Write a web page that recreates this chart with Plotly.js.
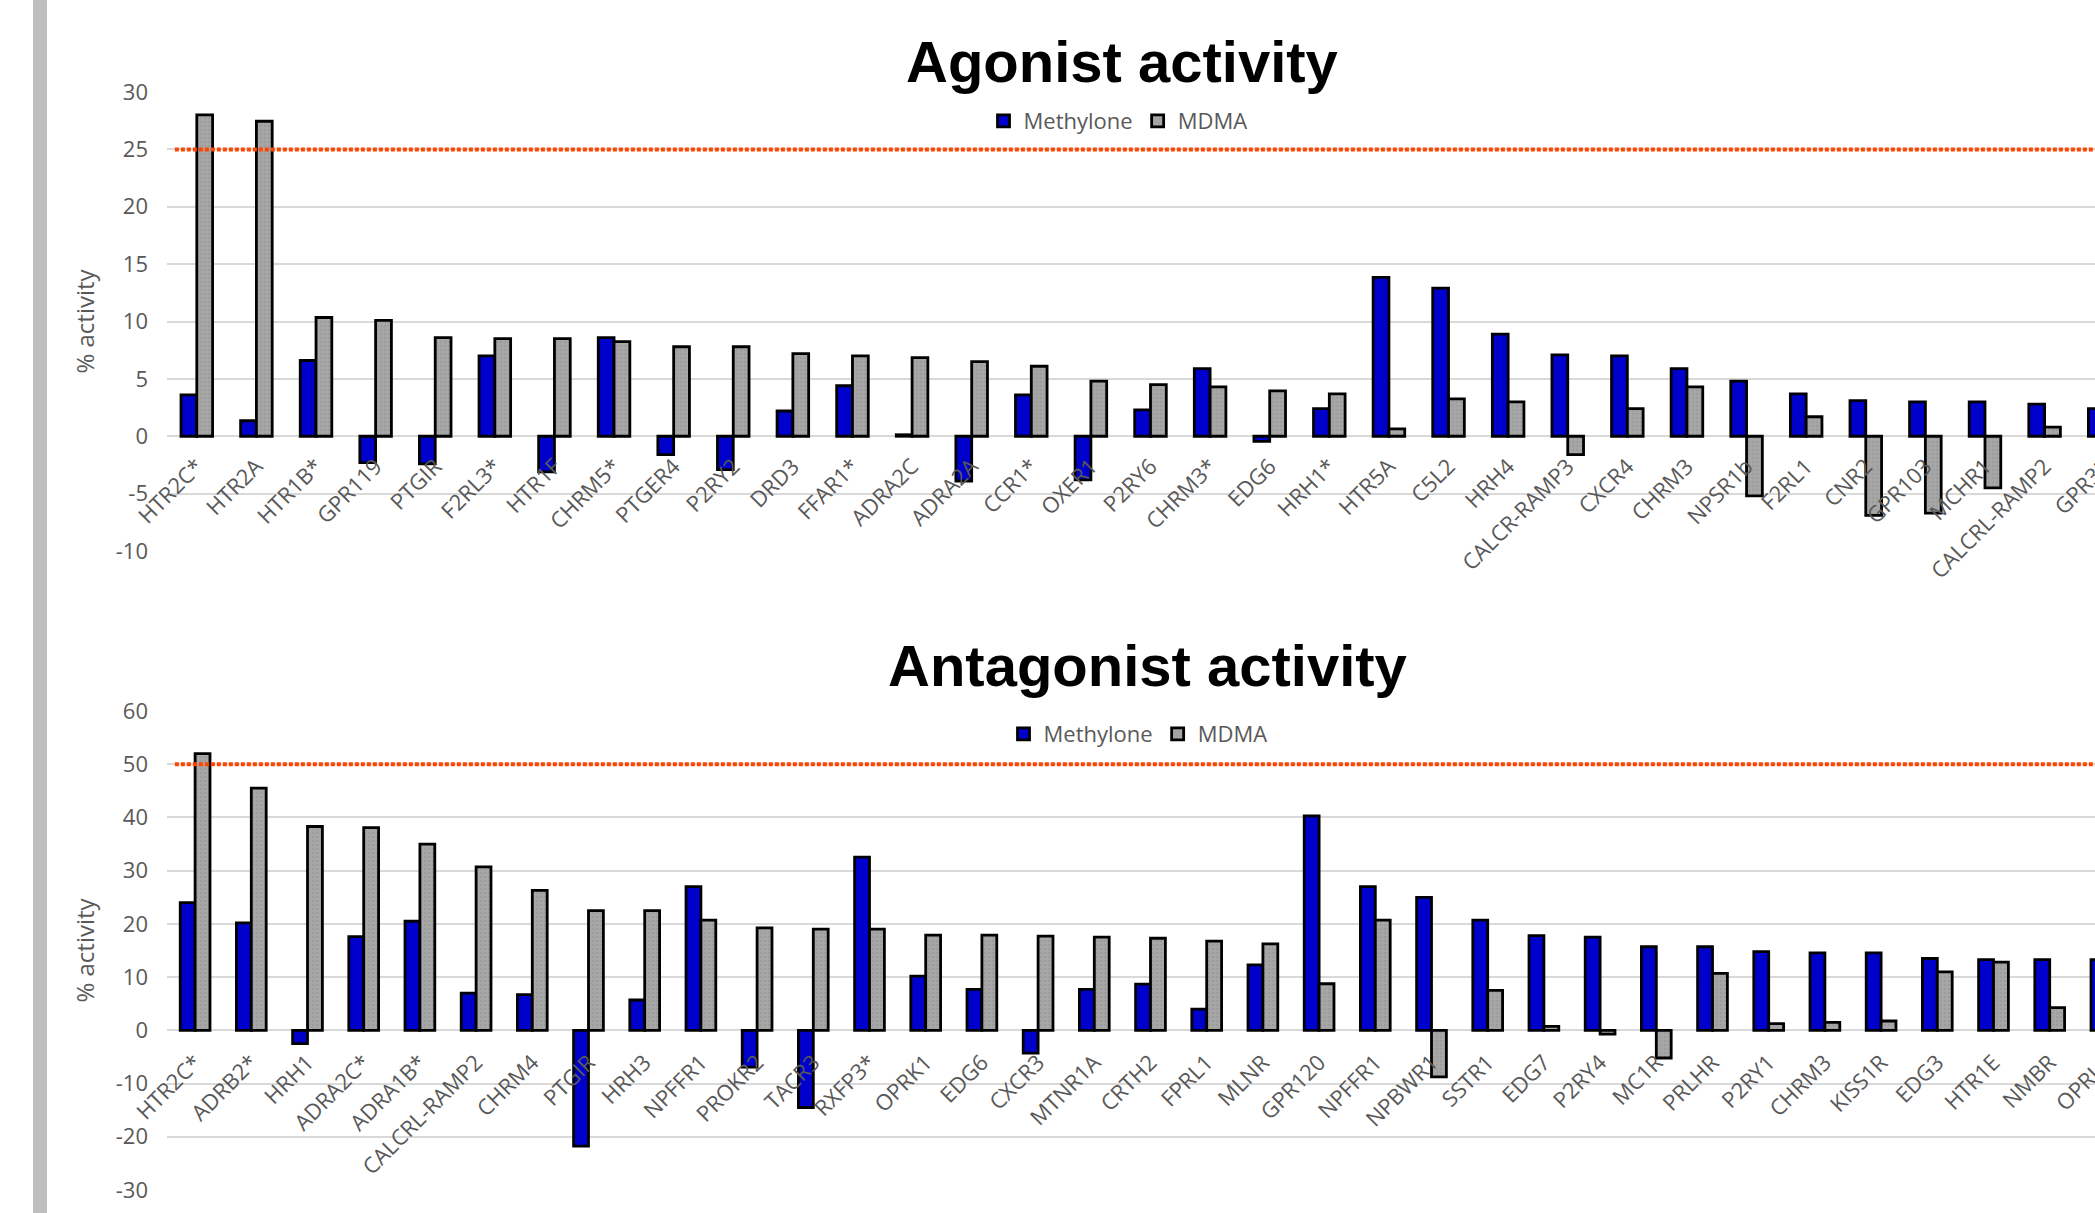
<!DOCTYPE html>
<html><head><meta charset="utf-8">
<script src="https://cdn.plot.ly/plotly-3.0.1.min.js"></script>
<style>
html,body{margin:0;padding:0;overflow:hidden;background:#fff;width:2095px;height:1213px}
#frame{position:absolute;left:33px;top:0;width:14px;height:1213px;background:#bfbfbf;z-index:2}
#chart{position:absolute;left:0;top:0;width:2140px;height:1213px}
</style></head><body>
<div id="frame"></div><div id="chart"></div>
<script>
// ---------------- data ----------------
const agonistReceptors = ["HTR2C*","HTR2A","HTR1B*","GPR119","PTGIR","F2RL3*","HTR1F","CHRM5*","PTGER4","P2RY2","DRD3","FFAR1*","ADRA2C","ADRA2A","CCR1*","OXER1","P2RY6","CHRM3*","EDG6","HRH1*","HTR5A","C5L2","HRH4","CALCR-RAMP3","CXCR4","CHRM3","NPSR1b","F2RL1","CNR2","GPR103","MCHR1","CALCRL-RAMP2","GPR35"];
const agonistMethylone = [3.6,1.35,6.6,-2.3,-2.4,7.0,-3.1,8.6,-1.6,-2.9,2.2,4.4,0.13,-3.9,3.6,-3.8,2.3,5.9,-0.45,2.4,13.85,12.9,8.9,7.1,7.0,5.9,4.8,3.7,3.1,3.0,3.0,2.8,2.4];
const agonistMDMA = [28.0,27.45,10.35,10.1,8.6,8.5,8.5,8.25,7.8,7.8,7.2,7.0,6.85,6.5,6.1,4.8,4.5,4.3,3.95,3.7,0.65,3.25,3.0,-1.6,2.4,4.3,-5.2,1.7,-6.9,-6.7,-4.5,0.8,null];
const agonistThreshold = 25;
const agonistYTicks = [-10,-5,0,5,10,15,20,25,30];
const agonistYTickText = ["-10","-5","0","5","10","15","20","25","30"];

const antagonistReceptors = ["HTR2C*","ADRB2*","HRH1","ADRA2C*","ADRA1B*","CALCRL-RAMP2","CHRM4","PTGIR","HRH3","NPFFR1","PROKR2","TACR3","RXFP3*","OPRK1","EDG6","CXCR3","MTNR1A","CRTH2","FPRL1","MLNR","GPR120","NPFFR1","NPBWR1","SSTR1","EDG7","P2RY4","MC1R","PRLHR","P2RY1","CHRM3","KISS1R","EDG3","HTR1E","NMBR","OPRL1"];
const antagonistMethylone = [24.0,20.2,-2.5,17.6,20.5,7.0,6.7,-21.75,5.7,27.0,-6.9,-14.5,32.55,10.2,7.7,-4.3,7.7,8.7,4.0,12.3,40.3,27.0,25.0,20.7,17.8,17.5,15.7,15.7,14.8,14.55,14.55,13.5,13.3,13.3,13.3];
const antagonistMDMA = [52.0,45.5,38.3,38.1,35.0,30.7,26.3,22.5,22.5,20.7,19.25,19.0,19.0,17.9,17.9,17.7,17.5,17.3,16.75,16.25,8.75,20.7,-8.75,7.5,0.75,-0.7,-5.2,10.7,1.25,1.5,1.75,11.0,12.8,4.25,null];
const antagonistThreshold = 50;
const antagonistYTicks = [-30,-20,-10,0,10,20,30,40,50,60];
const antagonistYTickText = ["-30","-20","-10","0","10","20","30","40","50","60"];

const seriesNames = ["Methylone","MDMA"];
const chartTitles = ["Agonist activity","Antagonist activity"];
const axisTitle = "% activity";

// ---------------- styling ----------------
const H = 1213, W = 2140, ML = 167, MR = 6;
const PW = W - ML - MR;
const BLUE = "#0000CC", GRAY = "#A6A6A6", TXT = "#595959", GRID = "#D9D9D9", RED = "#FF4500";
const py = p => 1 - p / H;            // pixel row -> paper y
const px = p => (p - ML) / PW;        // pixel col -> paper x
const topDom = [py(551), py(92)];
const botDom = [py(1190), py(711)];
const topRange = [-10, 30], botRange = [-30, 60];
const zeroPos = (dom, r) => dom[0] + (0 - r[0]) / (r[1] - r[0]) * (dom[1] - dom[0]);
const idx = arr => arr.map((_, i) => i);

const tickFont = {family: "Open Sans, sans-serif", size: 22, color: TXT};
const lineStyle = {color: "#000", width: 2.8};
const grayPattern = {shape: ".", fgcolor: "#999999", bgcolor: GRAY, size: 4, solidity: 0.2};

function barTrace(xs, ys, name, color, xa, ya, leg, pattern) {
  const m = {color: color, line: lineStyle};
  if (pattern) m.pattern = pattern;
  return {type: "bar", x: xs, y: ys, name: name, xaxis: xa, yaxis: ya, legend: leg,
          marker: m, hoverinfo: "x+y+name"};
}

const traces = [
  barTrace(idx(agonistReceptors), agonistMethylone, seriesNames[0], BLUE, "x", "y", "legend"),
  barTrace(idx(agonistReceptors), agonistMDMA, seriesNames[1], GRAY, "x", "y", "legend", grayPattern),
  barTrace(idx(antagonistReceptors), antagonistMethylone, seriesNames[0], BLUE, "x2", "y2", "legend2"),
  barTrace(idx(antagonistReceptors), antagonistMDMA, seriesNames[1], GRAY, "x2", "y2", "legend2", grayPattern)
];

function xAxis(labels, dom, r, standoff) {
  return {type: "linear", range: [-0.5, labels.length - 0.5], tickmode: "array",
          tickvals: idx(labels), ticktext: labels, tickangle: -45, tickfont: tickFont,
          showgrid: false, zeroline: false, showline: false, ticks: "",
          anchor: "free", position: zeroPos(dom, r), ticklabelstandoff: standoff,
          automargin: false, fixedrange: true};
}
function yAxis(dom, r, tv, tt) {
  return {domain: dom, range: r, tickmode: "array", tickvals: tv, ticktext: tt,
          tickfont: tickFont, showgrid: true, gridcolor: GRID, gridwidth: 2,
          zeroline: true, zerolinecolor: GRID, zerolinewidth: 2, showline: false, ticks: "",
          ticklabelstandoff: 18, automargin: false, fixedrange: true,
          title: {text: axisTitle, font: {family: "Open Sans, sans-serif", size: 24, color: TXT}, standoff: 14}};
}
function legend(cx, cy) {
  return {orientation: "h", x: px(cx), xanchor: "center", y: py(cy), yanchor: "middle",
          font: {family: "Open Sans, sans-serif", size: 22, color: TXT},
          bgcolor: "rgba(0,0,0,0)", itemwidth: 30, traceorder: "normal"};
}
function threshold(xa, ya, v) {
  return {type: "line", xref: xa + " domain", yref: ya, x0: 0.004, x1: 1, y0: v, y1: v,
          line: {color: RED, width: 4, dash: "4px,2px"}, layer: "above"};
}
function title(text, cx, cy) {
  return {text: text, xref: "paper", yref: "paper", x: px(cx), y: py(cy),
          xanchor: "center", yanchor: "middle", showarrow: false,
          font: {family: "Liberation Sans, Arial, sans-serif", size: 58, color: "#000", weight: "bold"}};
}

const layout = {
  width: W, height: H, margin: {l: ML, r: MR, t: 0, b: 0},
  paper_bgcolor: "#fff", plot_bgcolor: "#fff",
  barmode: "group", bargap: 0.47, bargroupgap: 0,
  xaxis: xAxis(agonistReceptors, topDom, topRange, 12),
  yaxis: yAxis(topDom, topRange, agonistYTicks, agonistYTickText),
  xaxis2: xAxis(antagonistReceptors, botDom, botRange, 14),
  yaxis2: Object.assign(yAxis(botDom, botRange, antagonistYTicks, antagonistYTickText), {anchor: "x2"}),
  legend: legend(1118, 121),
  legend2: legend(1138, 734),
  shapes: [threshold("x", "y", agonistThreshold), threshold("x2", "y2", antagonistThreshold)],
  annotations: [title(chartTitles[0], 1122, 62), title(chartTitles[1], 1147, 665)]
};
layout.yaxis.anchor = "x";

Plotly.newPlot("chart", traces, layout, {displayModeBar: false, staticPlot: true});
</script>
</body></html>
